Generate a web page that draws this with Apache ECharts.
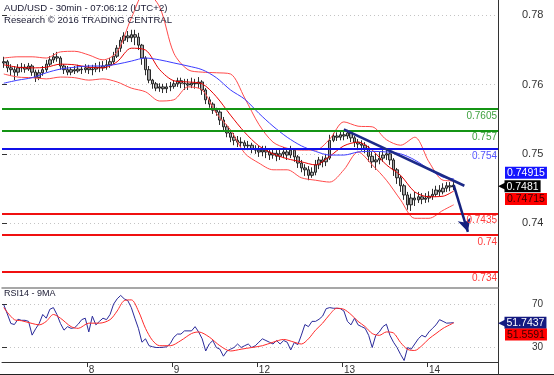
<!DOCTYPE html>
<html><head><meta charset="utf-8">
<script src="https://cdn.jsdelivr.net/npm/echarts@6/dist/echarts.min.js"></script>
<style>html,body{margin:0;padding:0;background:#fff}#c{width:554px;height:375px}</style>
</head><body><div id="c"></div>
<script>
// ---------- DATA ----------
const days = ['7','8','9','12','13','14'];
const hoursPerDay = 24;
const slotCount = 140;

const open = [
.7680,.7682,.7672,.7669,.7665,.7672,.7673,.7670,.7675,.7665,
.7656,.7664,.7669,.7678,.7685,.7690,.7688,.7675,.7669,.7665,
.7669,.7667,.7670,.7669,.7672,.7669,.7670,.7673,.7672,.7675,
.7677,.7682,.7691,.7704,.7717,.7724,.7721,.7726,.7722,.7709,
.7688,.7669,.7652,.7646,.7639,.7641,.7638,.7641,.7642,.7646,
.7651,.7647,.7646,.7644,.7647,.7646,.7649,.7636,.7620,.7613,
.7603,.7600,.7587,.7576,.7566,.7559,.7554,.7551,.7550,.7545,
.7546,.7540,.7538,.7535,.7538,.7535,.7530,.7533,.7528,.7532,
.7535,.7530,.7538,.7527,.7517,.7509,.7506,.7497,.7502,.7514,
.7522,.7519,.7525,.7554,.7561,.7559,.7563,.7561,.7566,.7558,
.7551,.7548,.7546,.7541,.7528,.7519,.7522,.7525,.7530,.7532,
.7522,.7506,.7493,.7480,.7465,.7449,.7460,.7457,.7462,.7458,
.7460,.7463,.7466,.7473,.7470,.7476,.7480,.7478];
const close = [
.7682,.7672,.7669,.7665,.7672,.7673,.7670,.7675,.7665,.7656,
.7664,.7669,.7678,.7685,.7690,.7688,.7675,.7669,.7665,.7669,
.7667,.7670,.7669,.7672,.7669,.7670,.7673,.7672,.7675,.7677,
.7682,.7691,.7704,.7717,.7724,.7721,.7726,.7722,.7709,.7688,
.7669,.7652,.7646,.7639,.7641,.7638,.7641,.7642,.7646,.7651,
.7647,.7646,.7644,.7647,.7646,.7649,.7636,.7620,.7613,.7603,
.7600,.7587,.7576,.7566,.7559,.7554,.7551,.7550,.7545,.7546,
.7540,.7538,.7535,.7538,.7535,.7530,.7533,.7528,.7532,.7535,
.7530,.7538,.7527,.7517,.7509,.7506,.7497,.7502,.7514,.7522,
.7519,.7525,.7554,.7561,.7559,.7563,.7561,.7566,.7558,.7551,
.7548,.7546,.7541,.7528,.7519,.7522,.7525,.7530,.7532,.7522,
.7506,.7493,.7480,.7465,.7449,.7460,.7457,.7462,.7458,.7460,
.7463,.7466,.7473,.7470,.7476,.7480,.7478,.7481];
const low = [
.7672,.7665,.7659,.7652,.7659,.7665,.7664,.7667,.7659,.7649,
.7652,.7659,.7665,.7675,.7680,.7682,.7669,.7662,.7660,.7660,
.7662,.7664,.7662,.7664,.7662,.7660,.7665,.7665,.7667,.7669,
.7672,.7678,.7688,.7698,.7711,.7714,.7714,.7709,.7701,.7677,
.7660,.7647,.7638,.7634,.7633,.7631,.7631,.7634,.7638,.7641,
.7639,.7636,.7636,.7639,.7638,.7639,.7628,.7613,.7607,.7597,
.7594,.7579,.7569,.7559,.7551,.7546,.7543,.7543,.7538,.7538,
.7533,.7532,.7527,.7528,.7525,.7522,.7524,.7520,.7522,.7525,
.7522,.7525,.7519,.7509,.7502,.7496,.7489,.7493,.7497,.7507,
.7510,.7512,.7522,.7551,.7553,.7554,.7554,.7556,.7551,.7543,
.7538,.7537,.7533,.7519,.7509,.7506,.7515,.7519,.7522,.7514,
.7496,.7483,.7470,.7457,.7441,.7439,.7447,.7452,.7450,.7452,
.7453,.7457,.7462,.7463,.7466,.7470,.7471,.7473];
const high = [
.7690,.7685,.7678,.7675,.7678,.7680,.7678,.7680,.7678,.7669,
.7669,.7675,.7685,.7691,.7696,.7698,.7691,.7678,.7675,.7673,
.7675,.7677,.7675,.7678,.7677,.7677,.7680,.7682,.7683,.7685,
.7688,.7698,.7709,.7722,.7730,.7732,.7734,.7734,.7729,.7711,
.7691,.7675,.7654,.7649,.7647,.7646,.7647,.7649,.7652,.7656,
.7656,.7654,.7654,.7656,.7654,.7657,.7652,.7639,.7625,.7616,
.7607,.7603,.7592,.7580,.7571,.7566,.7561,.7559,.7554,.7553,
.7550,.7546,.7545,.7545,.7545,.7540,.7541,.7538,.7540,.7543,
.7541,.7545,.7541,.7530,.7522,.7515,.7512,.7510,.7522,.7527,
.7528,.7532,.7563,.7566,.7567,.7569,.7569,.7571,.7569,.7561,
.7556,.7554,.7551,.7545,.7535,.7533,.7535,.7538,.7540,.7537,
.7525,.7509,.7497,.7483,.7470,.7467,.7470,.7470,.7468,.7468,
.7471,.7475,.7480,.7481,.7484,.7486,.7486,.7486];

const bandIdx = [0,4,8,12,16,20,24,28,32,36,40,44,48,52,56,60,64,68,72,76,80,84,88,92,96,100,104,108,112,116,120,124,127];
const bbUpper = [.7688,.7690,.7690,.7688,.7698,.7699,.7693,.7685,.7698,.7753,.7796,.7771,.7696,.7669,.7665,.7664,.7662,.7623,.7580,.7551,.7541,.7538,.7538,.7556,.7584,.7577,.7576,.7555,.7546,.7559,.7519,.7489,.7488];
const bbMiddle = [.7677,.7673,.7672,.7673,.7678,.7677,.7673,.7672,.7682,.7704,.7701,.7669,.7651,.7649,.7646,.7625,.7595,.7567,.7545,.7532,.7524,.7519,.7514,.7528,.7545,.7551,.7538,.7514,.7497,.7470,.7462,.7463,.74715];
const bbLower = [.7662,.7657,.7656,.7654,.7657,.7656,.7652,.7654,.7649,.7639,.7633,.7618,.7620,.7641,.7636,.7598,.7571,.7533,.7517,.7506,.7506,.7493,.7489,.7486,.7506,.7535,.7514,.7489,.7457,.7427,.7427,.7440,.7449];
const maBlue = [.7647,.7652,.7656,.7664,.7670,.7673,.7675,.7675,.7678,.7683,.7688,.7685,.7680,.7675,.7669,.7656,.7636,.7621,.7598,.7577,.7559,.7545,.7536,.7530,.7530,.7535,.7536,.7535,.7532,.7522,.7507,.7494,.74915];

const levelValues = [0.7605, 0.757, 0.754, 0.7435, 0.74, 0.734];
const levelLabels = ['0.7605','0.757','0.754','0.7435','0.74','0.734'];
const trendLine = [[96, 0.7572], [130, 0.7480]];
const forecastArrow = [[127, 0.7481], [131, 0.7405]];
const lastClose = 0.7481, lastMa = 0.74915, lastMid = 0.74715;

const rsi = [
68.7,60,51,50,55,54,54,53,40,46,
51,59.5,56,64.4,66,59.5,51,44.7,48,46.4,
47,50.3,54.6,56,43,57.9,49.7,53,56,54.6,
59.5,69.3,74.3,77.5,74.3,72.6,66,56,46.4,33.3,
36.5,30,29,28.3,28.3,28.5,29,32,38,41,
41,44,44,44,48,43,36.5,25,31.6,34.9,
28.3,26.7,20.1,25,26.7,28.3,31.6,28.3,30,31.6,
28.3,30,33.3,36.5,34.9,33.3,31.6,34.9,31.6,34.9,
33.3,26,33,31,40,50,48,53,53,55,
58,65,66,65.4,65.4,65,62.8,53,49.7,56,
49.7,48,46.4,39.8,28.3,39.8,43,48,50.3,39.8,
33.3,28.3,21.8,16,28.3,26.7,31.6,36.5,39.8,38.2,
43,46.4,49.7,54.6,53,51.3,51.5,51.74];
const rsiMaIdx = [0,3,5,8,10,12,14,16,19,21,24,27,30,32,34,36,38,40,42,44,47,50,53,55,58,61,64,67,70,73,76,79,82,84,86,88,90,92,94,96,98,100,102,104,106,108,110,112,114,116,118,120,122,124,127];
const rsiMa = [66,54.6,53.6,51,49.7,53,59.5,56,48,46.4,51.3,51.3,54.6,62.8,72.6,73.3,62.8,46.4,34.9,30,30,34.9,41.5,43,38.2,30,25,26.7,28.3,30,33.3,35.9,33.3,31.6,36.5,44.7,51.3,59.5,65.4,64.4,59.5,53,48,41.5,39.8,43,42,33,26.5,25.5,30,36.5,41.5,46.4,51.5591];
const lastRsi = 51.7437, lastRsiMa = 51.5591;

const priceTickLabels = ['0.74','0.75','0.76','0.78'];
const rsiTickLabels = ['30','70'];

// ---------- BUILD ----------
const categories = [];
days.forEach(d => { for (let h = 0; h < hoursPerDay; h++) categories.push(d + ' ' + String(h).padStart(2,'0') + ':00'); });
categories.length = slotCount;
const candleData = open.map((o, i) => [o, close[i], low[i], high[i]]);
function sparse(idx, vals) { const a = new Array(close.length).fill(null); idx.forEach((k, j) => { a[k] = vals[j]; }); return a; }
const isDayStart = (i) => i > 0 && i % hoursPerDay === 0;

const FONT = 'Liberation Sans, Arial, sans-serif';
const levelLineColors = ['#149414','#149414','#1010e8','#f01010','#f01010','#f01010'];
const levelTextColors = ['#3fa03f','#3fa03f','#5555ff','#ff3b3b','#ff3b3b','#ff3b3b'];

function tag(text, bg, fg, pointer, dy) {
  return {
    show: true, position: 'end', distance: pointer ? 0 : 7, offset: [0, dy],
    formatter: pointer ? '{p|◀}{b|' + text + '}' : '{b|' + text + '}',
    rich: {
      p: { color: bg, fontSize: 11, fontFamily: 'DejaVu Sans', width: 6.5, padding: [0, 0, 0, 0] },
      b: { backgroundColor: bg, color: fg, fontSize: 10.5, fontFamily: FONT, padding: [1, 2, 0, 2], lineHeight: 11 }
    }
  };
}
function hiddenLine(v, label) {
  return { yAxis: v, symbol: 'none', lineStyle: { color: 'rgba(0,0,0,0)', width: 0 }, label: label };
}

const grid = { left: 2, right: 56 };
const option = {
  animation: false,
  textStyle: { fontFamily: FONT },
  title: [
    { text: 'AUD/USD - 30min - 07:06:12 (UTC+2)', left: 4, top: 3, padding: 0, textStyle: { fontSize: 9.6, fontWeight: 'normal', color: '#202038', fontFamily: FONT } },
    { text: 'Research © 2016 TRADING CENTRAL', left: 4, top: 15.5, padding: 0, textStyle: { fontSize: 9.6, fontWeight: 'normal', color: '#202038', fontFamily: FONT } },
    { text: 'RSI14 - 9MA', left: 4, top: 289.5, padding: 0, textStyle: { fontSize: 9, fontWeight: 'normal', color: '#202038', fontFamily: FONT } }
  ],
  grid: [
    { left: grid.left, right: grid.right, top: 0, height: 287.5 },
    { left: grid.left, right: grid.right, top: 287.5, height: 76 },
    { left: grid.left, right: grid.right, top: 15.3, height: 208 },
    { left: grid.left, right: grid.right, top: 304, height: 43 }
  ],
  xAxis: [
    { type: 'category', gridIndex: 0, data: categories, boundaryGap: true,
      axisLine: { show: true, lineStyle: { color: '#8a8a8a', width: 1.5 } }, axisTick: { show: false }, axisLabel: { show: false }, splitLine: { show: false } },
    { type: 'category', gridIndex: 1, data: categories, boundaryGap: true,
      axisLine: { show: true, lineStyle: { color: '#333', width: 1 } },
      axisTick: { show: true, interval: (i) => isDayStart(i), length: 5, lineStyle: { color: '#333' } },
      axisLabel: { show: true, interval: (i) => isDayStart(i), formatter: (v) => v.split(' ')[0], align: 'left', margin: 3, fontSize: 10, color: '#333' },
      splitLine: { show: false } },
    { type: 'value', gridIndex: 2, show: false, min: 0, max: 1 },
    { type: 'value', gridIndex: 3, show: false, min: 0, max: 1 }
  ],
  yAxis: [
    { type: 'value', gridIndex: 0, min: 0.73143, max: 0.77825, position: 'right', scale: true,
      axisLine: { show: true, lineStyle: { color: '#333' } }, axisTick: { show: false }, axisLabel: { show: false }, splitLine: { show: false } },
    { type: 'value', gridIndex: 1, min: 14.6, max: 85, position: 'right',
      axisLine: { show: true, lineStyle: { color: '#333' } }, axisTick: { show: false }, axisLabel: { show: false }, splitLine: { show: false } },
    { type: 'value', gridIndex: 2, min: 0, max: priceTickLabels.length - 1, interval: 1, position: 'right',
      axisLine: { show: false }, axisTick: { show: true, length: 5, lineStyle: { color: '#333' } },
      axisLabel: { formatter: (v) => priceTickLabels[v], margin: 24, fontSize: 11, color: '#333' },
      splitLine: { show: true, lineStyle: { color: '#c4c4c4', type: [1, 3] } } },
    { type: 'value', gridIndex: 3, min: +rsiTickLabels[0], max: +rsiTickLabels[1], interval: rsiTickLabels[1] - rsiTickLabels[0], position: 'right',
      axisLine: { show: false }, axisTick: { show: true, length: 5, lineStyle: { color: '#333' } },
      axisLabel: { formatter: (v) => String(v), margin: 34, fontSize: 10, color: '#333' },
      splitLine: { show: true, lineStyle: { color: '#c4c4c4', type: [1, 3] } } }
  ],
  graphic: [
    { type: 'line', shape: { x1: 0, y1: 374.5, x2: 554, y2: 374.5 }, style: { stroke: '#222', lineWidth: 1 }, silent: true },
    { type: 'line', shape: { x1: 498.5, y1: 363, x2: 498.5, y2: 375 }, style: { stroke: '#333', lineWidth: 1 }, silent: true }
  ],
  series: [
    { type: 'candlestick', name: 'AUD/USD', xAxisIndex: 0, yAxisIndex: 0, data: candleData, barWidth: 3, z: 2,
      itemStyle: { color: '#a4a4a4', color0: '#a4a4a4', borderColor: '#161616', borderColor0: '#161616', borderWidth: 0.9 },
      markLine: { silent: true, precision: 6, symbol: ['none', 'none'], z: 6,
        data: levelValues.map((v, j) => ({ yAxis: v, symbol: 'none',
          lineStyle: { color: levelLineColors[j], width: 2, type: 'solid' },
          label: { show: true, position: 'insideEndBottom', formatter: levelLabels[j], color: levelTextColors[j], fontSize: 10, distance: [1, 2] } }))
          .concat([
            [{ coord: trendLine[0], symbol: 'none', lineStyle: { color: '#1c2a88', width: 2.5, type: 'solid' }, label: { show: false } }, { coord: trendLine[1], symbol: 'none' }],
            [{ coord: forecastArrow[0], symbol: 'none', lineStyle: { color: '#14207e', width: 2.5, type: 'solid' }, label: { show: false } }, { coord: forecastArrow[1], symbol: 'arrow', symbolSize: [10, 13] }],
            hiddenLine(lastClose, tag(String(lastClose), '#000', '#fff', true, 1))
          ])
      } },
    { type: 'line', name: 'BB upper', xAxisIndex: 0, yAxisIndex: 0, data: sparse(bandIdx, bbUpper), connectNulls: true, smooth: 0.3, symbol: 'none', z: 3,
      lineStyle: { color: '#ff4a4a', width: 1 } },
    { type: 'line', name: 'BB lower', xAxisIndex: 0, yAxisIndex: 0, data: sparse(bandIdx, bbLower), connectNulls: true, smooth: 0.3, symbol: 'none', z: 3,
      lineStyle: { color: '#ff4a4a', width: 1 } },
    { type: 'line', name: 'BB middle', xAxisIndex: 0, yAxisIndex: 0, data: sparse(bandIdx, bbMiddle), connectNulls: true, smooth: 0.3, symbol: 'none', z: 3,
      lineStyle: { color: '#e60000', width: 1 },
      markLine: { silent: true, precision: 6, symbol: ['none', 'none'], data: [hiddenLine(lastMid, tag(String(lastMid), '#ff0000', '#3a0000', false, 8))] } },
    { type: 'line', name: 'MA', xAxisIndex: 0, yAxisIndex: 0, data: sparse(bandIdx, maBlue), connectNulls: true, smooth: 0.3, symbol: 'none', z: 3,
      lineStyle: { color: '#3b3bff', width: 1 },
      markLine: { silent: true, precision: 6, symbol: ['none', 'none'], data: [hiddenLine(lastMa, tag(String(lastMa), '#1414ff', '#fff', false, -6))] } },
    { type: 'line', name: 'RSI14', xAxisIndex: 1, yAxisIndex: 1, data: rsi, symbol: 'none', z: 3,
      lineStyle: { color: '#2a2a9a', width: 1 },
      markLine: { silent: true, precision: 6, symbol: ['none', 'none'], data: [hiddenLine(lastRsi, tag(String(lastRsi), '#141a80', '#fff', true, 0))] } },
    { type: 'line', name: 'RSI MA9', xAxisIndex: 1, yAxisIndex: 1, data: sparse(rsiMaIdx, rsiMa), connectNulls: true, smooth: 0.3, symbol: 'none', z: 3,
      lineStyle: { color: '#ff2a2a', width: 1 },
      markLine: { silent: true, precision: 6, symbol: ['none', 'none'], data: [hiddenLine(lastRsiMa, tag(String(lastRsiMa), '#ff0000', '#3a0000', false, 11.5))] } }
  ]
};
const chart = echarts.init(document.getElementById('c'));
chart.setOption(option);
</script></body></html>
